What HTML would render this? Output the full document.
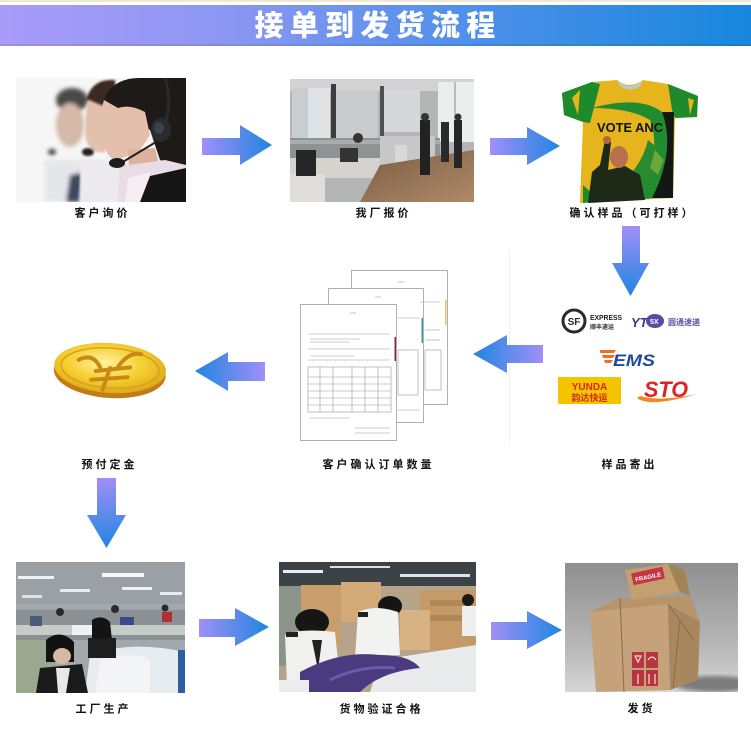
<!DOCTYPE html>
<html><head><meta charset="utf-8">
<style>
html,body{margin:0;padding:0;background:#fff;}
svg{display:block;}
text{font-family:"Liberation Sans","Noto Sans CJK SC",sans-serif;}
.lb{font-size:11px;font-weight:bold;fill:#111;letter-spacing:3px;}
</style></head>
<body>
<svg width="751" height="729" viewBox="0 0 751 729" xmlns="http://www.w3.org/2000/svg">
<defs>
 <linearGradient id="hdr" x1="0" x2="1" y1="0" y2="0">
  <stop offset="0" stop-color="#aa9bf8"/><stop offset="0.3" stop-color="#8c97f3"/>
  <stop offset="0.62" stop-color="#4f90ea"/><stop offset="1" stop-color="#1787dc"/>
 </linearGradient>
 <linearGradient id="aR" x1="0" x2="1" y1="0" y2="0">
  <stop offset="0" stop-color="#a08ff6"/><stop offset="1" stop-color="#1f86e0"/>
 </linearGradient>
 <linearGradient id="aL" x1="0" x2="1" y1="0" y2="0">
  <stop offset="0" stop-color="#1f86e0"/><stop offset="1" stop-color="#a08ff6"/>
 </linearGradient>
 <linearGradient id="aD" x1="0" x2="0" y1="0" y2="1">
  <stop offset="0" stop-color="#a08ff6"/><stop offset="1" stop-color="#1f86e0"/>
 </linearGradient>
 <radialGradient id="coin" cx="0.45" cy="0.4" r="0.7">
  <stop offset="0" stop-color="#fff3a0"/><stop offset="0.5" stop-color="#f5cf30"/><stop offset="1" stop-color="#d89a10"/>
 </radialGradient>
 <linearGradient id="boxbg" x1="0" x2="0" y1="0" y2="1">
  <stop offset="0" stop-color="#8f8f8f"/><stop offset="0.6" stop-color="#b4b4b4"/><stop offset="1" stop-color="#d6d6d6"/>
 </linearGradient>
 <linearGradient id="floor" x1="0" x2="1" y1="0" y2="1">
  <stop offset="0" stop-color="#7a5c44"/><stop offset="1" stop-color="#b08a68"/>
 </linearGradient>
 <filter id="bl2"><feGaussianBlur stdDeviation="2"/></filter>
 <filter id="bl1"><feGaussianBlur stdDeviation="1"/></filter>
 <clipPath id="c1"><rect x="16" y="78" width="170" height="124"/></clipPath>
 <clipPath id="c2"><rect x="290" y="79" width="184" height="123"/></clipPath>
 <clipPath id="c3"><rect x="16" y="562" width="169" height="131"/></clipPath>
 <clipPath id="c4"><rect x="279" y="562" width="197" height="130"/></clipPath>
 <clipPath id="c5"><rect x="565" y="563" width="173" height="129"/></clipPath>
</defs>

<!-- header -->
<rect x="0" y="0" width="751" height="2" fill="#ece8da"/>
<rect x="0" y="5" width="751" height="41" fill="url(#hdr)"/>
<rect x="0" y="44" width="751" height="2" fill="#000" opacity="0.08"/>
<text x="378" y="35.5" text-anchor="middle" font-size="29" font-weight="bold" fill="#fff" letter-spacing="6.3" style="font-family:'Noto Sans CJK SC',sans-serif;font-weight:900">接单到发货流程</text>

<!-- Photo 1: customer service -->
<g clip-path="url(#c1)">
 <rect x="16" y="78" width="170" height="124" fill="#f6f6f6"/>
 <rect x="170" y="78" width="16" height="80" fill="#dcdcdc" filter="url(#bl2)"/>
 <!-- left man blurred -->
 <g filter="url(#bl2)">
  <ellipse cx="72" cy="100" rx="16" ry="12" fill="#4a4a4a"/>
  <ellipse cx="70" cy="125" rx="14" ry="22" fill="#d4b8a8"/>
  <rect x="45" y="160" width="55" height="42" fill="#e4e6ea"/>
  <polygon points="70,175 84,172 80,202 66,202" fill="#3c4860"/>
  <ellipse cx="52" cy="152" rx="4" ry="3" fill="#333"/>
 </g>
 <!-- middle woman blurred -->
 <g filter="url(#bl1)">
  <path d="M86,100 Q92,78 115,80 L118,120 L95,115 Z" fill="#3a2a24"/>
  <path d="M88,100 Q84,120 86,140 Q92,155 105,152 L112,110 Z" fill="#e2c0ac"/>
  <rect x="80" y="160" width="50" height="42" fill="#eceaee"/>
  <ellipse cx="88" cy="152" rx="6" ry="4" fill="#222"/>
 </g>
 <!-- main woman -->
 <path d="M104,100 Q112,78 140,78 L186,78 L186,170 L160,160 L150,130 L120,110 Z" fill="#1f1a1a"/>
 <path d="M104,100 Q100,112 101,124 L98,130 L102,134 L104,146 Q108,158 116,160 L128,156 L140,150 L150,135 L145,112 Q130,104 118,108 Z" fill="#e4bfab"/>
 <path d="M128,150 L155,148 L162,175 L130,182 Z" fill="#dcb29e"/>
 <path d="M120,166 L165,160 L186,165 L186,202 L118,202 Z" fill="#eadce4"/>
 <path d="M128,178 L150,172 L150,202 L125,202 Z" fill="#f4eef2"/>
 <path d="M150,176 L186,168 L186,202 L140,202 Z" fill="#161616"/>
 <path d="M165,78 Q172,100 166,120" stroke="#2a2a2a" stroke-width="3" fill="none"/>
 <ellipse cx="161" cy="130" rx="10" ry="12" fill="#282c30"/>
 <ellipse cx="159" cy="128" rx="5" ry="6" fill="#3c4248"/>
 <line x1="156" y1="142" x2="121" y2="163" stroke="#222" stroke-width="2"/>
 <ellipse cx="117" cy="163" rx="8" ry="5" fill="#1c1c1c"/>
</g>

<!-- Arrow 1 -->
<polygon points="202,138 240,138 240,125 272,145 240,165 240,155 202,155" fill="url(#aR)"/>

<!-- Photo 2: office -->
<g clip-path="url(#c2)">
 <rect x="290" y="79" width="184" height="123" fill="#b4b6b6"/>
 <rect x="290" y="79" width="184" height="12" fill="#d2d2d2"/>
 <rect x="292" y="88" width="38" height="55" fill="#dfe3e6"/>
 <rect x="292" y="88" width="16" height="55" fill="#c8cdd2"/>
 <rect x="331" y="84" width="5" height="70" fill="#3c3c3c"/>
 <rect x="336" y="90" width="42" height="50" fill="#c8cccc"/>
 <rect x="380" y="86" width="4" height="60" fill="#505050"/>
 <rect x="384" y="90" width="36" height="42" fill="#d4d8da"/>
 <rect x="438" y="82" width="36" height="60" fill="#eceeee"/>
 <rect x="454" y="82" width="2" height="60" fill="#bbb"/>
 <rect x="290" y="138" width="150" height="22" fill="#8e9494"/>
 <rect x="290" y="140" width="150" height="4" fill="#a8aeae"/>
 <rect x="290" y="158" width="95" height="20" fill="#d6d2ce"/>
 <rect x="290" y="174" width="35" height="28" fill="#e0dcd8"/>
 <rect x="296" y="150" width="20" height="26" fill="#262626"/>
 <rect x="340" y="148" width="18" height="14" fill="#333"/>
 <rect x="380" y="136" width="55" height="30" fill="#c8c8c8"/>
 <rect x="395" y="145" width="12" height="35" fill="#d8d8d8"/>
 <polygon points="360,202 380,165 474,150 474,202" fill="url(#floor)"/>
 <rect x="420" y="120" width="10" height="55" fill="#222"/>
 <circle cx="425" cy="117" r="4" fill="#333"/>
 <rect x="441" y="122" width="8" height="40" fill="#2a2a2a"/>
 <rect x="454" y="120" width="8" height="48" fill="#262626"/>
 <circle cx="458" cy="117" r="3.5" fill="#333"/>
 <circle cx="358" cy="138" r="5" fill="#3a3030"/>
</g>

<!-- Arrow 2 -->
<polygon points="490,138 527,138 527,127 560,146 527,165 527,155 490,155" fill="url(#aR)"/>

<!-- T-shirt -->
<g>
 <path d="M617,80 Q630,90 643,80 L668,84 L698,96 L697,117 L675,118 L673,198 L580,203 L583,122 L564,115 L562,93 L592,82 Z" fill="#e6b41c"/>
 <path d="M617,80 Q630,92 643,80 L640,86 Q630,93 620,86 Z" fill="#b8ccd2"/>
 <path d="M562,93 L592,82 L600,84 L590,123 L583,122 L564,115 Z" fill="#1e8a2c"/>
 <path d="M668,84 L698,96 L697,117 L675,118 L672,110 Z" fill="#1e8a2c"/>
 <path d="M572,98 L580,90 L578,115 Z M688,98 L694,100 L690,115 Z" fill="#e6b41c"/>
 <path d="M592,108 Q640,95 662,112 Q676,150 652,198 L640,200 Q662,150 650,120 Q630,108 592,108 Z" fill="#1f8c30"/>
 <path d="M662,112 L674,112 L673,198 L652,198 Q676,150 662,112 Z" fill="#141814"/>
 <path d="M600,200 L640,200 Q655,175 660,150 L648,140 Q640,175 600,200 Z" fill="#2a8a30"/>
 <path d="M655,150 L664,160 L658,175 L650,168 Z" fill="#6aa83a"/>
 <path d="M583,185 L583,203 L600,201 Z" fill="#1e8a2c"/>
 <text x="597" y="132" font-size="13" font-weight="bold" fill="#111" textLength="66" lengthAdjust="spacingAndGlyphs">VOTE ANC</text>
 <path d="M588,203 L592,172 L600,165 L605,140 L611,142 L608,170 L625,166 L640,175 L645,200 Z" fill="#1e2a18"/>
 <ellipse cx="619" cy="157" rx="9" ry="11" fill="#b8714a"/>
 <ellipse cx="607" cy="140" rx="4" ry="4" fill="#b06a40"/>
</g>

<!-- Down arrow 1 -->
<polygon points="622,226 640,226 640,263 649,263 630.5,296 612,263 622,263" fill="url(#aD)"/>

<!-- faint divider -->
<rect x="509" y="250" width="1" height="195" fill="#f2f2f2"/>

<!-- Logos -->
<g>
 <circle cx="574" cy="321" r="11" fill="#fff" stroke="#2a2a2a" stroke-width="3"/>
 <text x="574" y="325" font-size="10" font-weight="bold" fill="#2a2a2a" text-anchor="middle">SF</text>
 <text x="590" y="320" font-size="7.5" font-weight="bold" fill="#222" textLength="32" lengthAdjust="spacingAndGlyphs">EXPRESS</text>
 <text x="590" y="329" font-size="6" font-weight="bold" fill="#333">顺丰速运</text>
 <text x="631" y="327" font-size="13" font-weight="bold" font-style="italic" fill="#3a3a8c">YT</text>
 <ellipse cx="655" cy="321" rx="9" ry="7" fill="#5c4aa0"/>
 <text x="650" y="324" font-size="7" font-weight="bold" fill="#fff">5X</text>
 <text x="668" y="325" font-size="8" font-weight="bold" fill="#5a4fa8">圆通速递</text>
 <polygon points="600,350 616,350 614,353 600,353" fill="#f07020"/>
 <polygon points="602,355 615,355 613,358 603,358" fill="#f07020"/>
 <polygon points="604,360 613,360 611,363 605,363" fill="#f07020"/>
 <text x="613" y="366" font-size="17" font-weight="bold" font-style="italic" fill="#1f4a9c" textLength="42" lengthAdjust="spacingAndGlyphs">EMS</text>
 <rect x="558" y="377" width="63" height="27" fill="#f4c400"/>
 <text x="589.5" y="390" font-size="10" font-weight="bold" fill="#d42a14" text-anchor="middle">YUNDA</text>
 <text x="589.5" y="401" font-size="9" font-weight="bold" fill="#d42a14" text-anchor="middle">韵达快运</text>
 <text x="644" y="397" font-size="22" font-weight="bold" font-style="italic" fill="#e02222" textLength="44" lengthAdjust="spacingAndGlyphs">STO</text>
 <path d="M637,398 Q650,408 697,394 Q660,402 640,396 Z" fill="#f08a20"/>
</g>

<!-- Left arrow 1 -->
<polygon points="473,354 507,335 507,345 543,345 543,363 507,363 507,373" fill="url(#aL)"/>

<!-- Documents -->
<g stroke="#b0b0b0" stroke-width="1">
 <rect x="351.5" y="270.5" width="96" height="134" fill="#fff"/>
 <rect x="328.5" y="288.5" width="95" height="134" fill="#fff"/>
 <rect x="300.5" y="304.5" width="96" height="136" fill="#fff"/>
</g>
<rect x="445" y="300" width="1.5" height="25" fill="#e8c060"/>
<rect x="421.5" y="318" width="1.5" height="25" fill="#3a9aa0"/>
<rect x="394.5" y="337" width="1.5" height="24" fill="#8a2a30"/>
<g stroke="#9a9a9a" stroke-width="0.6" fill="none">
 <line x1="398" y1="282" x2="404" y2="282"/>
 <line x1="420" y1="302" x2="440" y2="302"/>
 <line x1="425" y1="330" x2="440" y2="330"/>
 <line x1="425" y1="340" x2="440" y2="340"/>
 <rect x="425" y="350" width="16" height="40"/>
 <line x1="375" y1="297" x2="381" y2="297"/>
 <line x1="398" y1="318" x2="420" y2="318"/>
 <rect x="398" y="350" width="20" height="45"/>
 <line x1="398" y1="410" x2="420" y2="410"/>
 <line x1="350" y1="313" x2="356" y2="313"/>
 <line x1="308" y1="334" x2="390" y2="334"/>
 <line x1="310" y1="339" x2="360" y2="339"/>
 <line x1="310" y1="342" x2="350" y2="342"/>
 <line x1="308" y1="349" x2="390" y2="349"/>
 <line x1="310" y1="356" x2="355" y2="356"/>
 <line x1="308" y1="360" x2="390" y2="360"/>
 <rect x="308" y="367" width="83" height="45"/>
 <line x1="320" y1="367" x2="320" y2="412"/>
 <line x1="333" y1="367" x2="333" y2="412"/>
 <line x1="352" y1="367" x2="352" y2="412"/>
 <line x1="365" y1="367" x2="365" y2="412"/>
 <line x1="378" y1="367" x2="378" y2="412"/>
 <line x1="308" y1="377" x2="391" y2="377"/>
 <line x1="308" y1="384" x2="391" y2="384"/>
 <line x1="308" y1="391" x2="391" y2="391"/>
 <line x1="308" y1="398" x2="391" y2="398"/>
 <line x1="308" y1="405" x2="391" y2="405"/>
 <line x1="310" y1="418" x2="350" y2="418"/>
 <line x1="355" y1="428" x2="390" y2="428"/>
 <line x1="355" y1="433" x2="390" y2="433"/>
</g>

<!-- Left arrow 2 -->
<polygon points="195,371 228,352 228,362 265,362 265,381 228,381 228,391" fill="url(#aL)"/>

<!-- Coin -->
<g transform="rotate(4 110 369)">
 <ellipse cx="110" cy="373" rx="56" ry="25" fill="#c07c18"/>
 <ellipse cx="110" cy="368" rx="56" ry="25" fill="url(#coin)"/>
 <ellipse cx="110" cy="368" rx="49" ry="20" fill="none" stroke="#d8a020" stroke-width="1.5"/>
 <g stroke="#c88a14" stroke-width="4" fill="none" stroke-linecap="round">
  <path d="M78,362 Q92,354 100,368 M140,352 Q128,350 118,366"/>
  <path d="M96,372 L130,366 M92,381 L128,376 M110,368 L104,390"/>
 </g>
</g>

<!-- Down arrow 2 -->
<polygon points="97,478 116,478 116,515 126,515 106.5,548 87,515 97,515" fill="url(#aD)"/>

<!-- Factory photo -->
<g clip-path="url(#c3)">
 <rect x="16" y="562" width="169" height="131" fill="#a2a8ac"/>
 <rect x="16" y="562" width="169" height="42" fill="#9aa0a4"/>
 <rect x="18" y="576" width="36" height="3" fill="#eef2f4"/>
 <rect x="60" y="589" width="30" height="3" fill="#e8ecee"/>
 <rect x="102" y="573" width="42" height="4" fill="#f4f6f8"/>
 <rect x="122" y="587" width="30" height="3" fill="#eef0f2"/>
 <rect x="160" y="592" width="22" height="3" fill="#e8ecee"/>
 <rect x="22" y="595" width="20" height="3" fill="#dde2e4"/>
 <rect x="16" y="610" width="169" height="30" fill="#8a9094"/>
 <rect x="16" y="625" width="169" height="10" fill="#c8ccc8"/>
 <circle cx="60" cy="612" r="4" fill="#2a2a2a"/>
 <circle cx="115" cy="609" r="4" fill="#2a2a2a"/>
 <circle cx="165" cy="608" r="3.5" fill="#2a2a2a"/>
 <rect x="162" y="612" width="10" height="10" fill="#b03030"/>
 <rect x="120" y="617" width="14" height="8" fill="#3a4a8a"/>
 <rect x="30" y="616" width="12" height="10" fill="#4a5a7a"/>
 <rect x="16" y="640" width="40" height="53" fill="#9aa890"/>
 <path d="M90,655 Q130,640 185,652 L185,693 L85,693 Z" fill="#e6ecf0"/>
 <path d="M100,660 Q130,650 150,660 L150,693 L95,693 Z" fill="#f2f4f6"/>
 <path d="M92,620 Q102,614 110,622 L112,640 L92,640 Z" fill="#141414"/>
 <rect x="88" y="638" width="28" height="20" fill="#1e1e1e"/>
 <path d="M46,640 Q60,628 74,642 L74,662 L46,662 Z" fill="#121212"/>
 <ellipse cx="62" cy="656" rx="9" ry="8" fill="#d8b8a0"/>
 <path d="M40,668 L82,664 L88,693 L36,693 Z" fill="#1a1a1a"/>
 <path d="M56,668 L70,668 L66,693 L58,693 Z" fill="#e8e8e8"/>
 <rect x="72" y="625" width="20" height="10" fill="#f0f0f0"/>
 <rect x="178" y="650" width="7" height="43" fill="#2a60a0"/>
</g>

<!-- Arrow 3 -->
<polygon points="199,619 235,619 235,608 269,627 235,646 235,637 199,637" fill="url(#aR)"/>

<!-- Inspection photo -->
<g clip-path="url(#c4)">
 <rect x="279" y="562" width="197" height="130" fill="#b6a48a"/>
 <rect x="279" y="562" width="197" height="24" fill="#3c4246"/>
 <rect x="283" y="570" width="40" height="3" fill="#e8eef2"/>
 <rect x="330" y="566" width="60" height="2" fill="#d8dee2"/>
 <rect x="400" y="574" width="70" height="3" fill="#dfe4e8"/>
 <rect x="279" y="586" width="22" height="80" fill="#8a9488"/>
 <rect x="301" y="585" width="40" height="60" fill="#c89e6c"/>
 <rect x="341" y="582" width="40" height="40" fill="#d2aa78"/>
 <rect x="420" y="590" width="56" height="60" fill="#c49a68"/>
 <rect x="430" y="600" width="40" height="6" fill="#b08856"/>
 <rect x="430" y="615" width="40" height="6" fill="#b08856"/>
 <rect x="400" y="610" width="30" height="40" fill="#d8b282"/>
 <ellipse cx="312" cy="622" rx="17" ry="13" fill="#161616"/>
 <path d="M285,635 Q300,628 335,632 L340,680 L287,685 Z" fill="#f0f0ee"/>
 <rect x="286" y="632" width="12" height="5" fill="#222"/>
 <path d="M312,640 L322,640 L318,670 Z" fill="#222"/>
 <ellipse cx="390" cy="606" rx="12" ry="10" fill="#141414"/>
 <path d="M358,612 Q375,604 398,612 L400,655 L355,658 Z" fill="#f2f2f0"/>
 <rect x="358" y="612" width="10" height="5" fill="#222"/>
 <path d="M380,660 L476,645 L476,692 L370,692 Z" fill="#e8eaec"/>
 <path d="M300,672 Q340,650 380,655 Q410,655 420,668 Q380,672 360,692 L300,692 Z" fill="#4a3a80"/>
 <path d="M330,680 Q360,665 395,668" stroke="#6a5aa8" stroke-width="3" fill="none"/>
 <ellipse cx="468" cy="600" rx="6" ry="6" fill="#1a1a1a"/>
 <rect x="462" y="606" width="14" height="30" fill="#efefef"/>
 <rect x="279" y="680" width="30" height="12" fill="#ececec"/>
</g>

<!-- Arrow 4 -->
<polygon points="491,622 527,622 527,611 562,630 527,649 527,640 491,640" fill="url(#aR)"/>

<!-- Box photo -->
<g clip-path="url(#c5)">
 <rect x="565" y="563" width="173" height="129" fill="url(#boxbg)"/>
 <ellipse cx="715" cy="684" rx="40" ry="8" fill="#7c7c7c" filter="url(#bl2)"/>
 <polygon points="590,612 668,604 670,690 596,692" fill="#c6a27a"/>
 <polygon points="668,604 700,622 698,680 670,690" fill="#a8865e"/>
 <polygon points="590,612 620,598 690,596 700,622 668,604" fill="#b8946a"/>
 <polygon points="625,570 668,564 680,592 632,600" fill="#c4a070"/>
 <polygon points="668,564 685,570 690,596 680,592" fill="#a48258"/>
 <g transform="rotate(-12 648 576)">
  <rect x="632" y="570" width="32" height="12" fill="#c43444"/>
  <text x="648" y="579" font-size="6" font-weight="bold" fill="#fff" text-anchor="middle">FRAGILE</text>
 </g>
 <line x1="620" y1="598" x2="624" y2="692" stroke="#8a6a4a" stroke-width="1"/>
 <line x1="668" y1="604" x2="694" y2="640" stroke="#8a6a4a" stroke-width="1"/>
 <line x1="680" y1="620" x2="673" y2="688" stroke="#8a6a4a" stroke-width="1"/>
 <rect x="632" y="652" width="12" height="16" fill="#b83440"/>
 <rect x="646" y="652" width="12" height="16" fill="#b83440"/>
 <rect x="632" y="670" width="12" height="16" fill="#b83440"/>
 <rect x="646" y="670" width="12" height="16" fill="#b83440"/>
 <g stroke="#f0e0d0" stroke-width="1.2" fill="none">
  <path d="M635,656 L641,656 L638,662 Z"/><path d="M648,660 Q652,654 656,660"/>
  <line x1="638" y1="674" x2="638" y2="684"/><path d="M649,684 L649,674 M655,684 L655,674"/>
 </g>
</g>

<!-- Labels -->
<text class="lb" x="102.5" y="216.5" text-anchor="middle">客户询价</text>
<text class="lb" x="383.5" y="216.5" text-anchor="middle">我厂报价</text>
<text class="lb" x="632.5" y="216.5" text-anchor="middle">确认样品（可打样）</text>
<text class="lb" x="109.5" y="468" text-anchor="middle">预付定金</text>
<text class="lb" x="378.5" y="468" text-anchor="middle">客户确认订单数量</text>
<text class="lb" x="629.5" y="468" text-anchor="middle">样品寄出</text>
<text class="lb" x="103.5" y="712.5" text-anchor="middle">工厂生产</text>
<text class="lb" x="381.5" y="712.5" text-anchor="middle">货物验证合格</text>
<text class="lb" x="641.5" y="712" text-anchor="middle">发货</text>
</svg>
</body></html>
